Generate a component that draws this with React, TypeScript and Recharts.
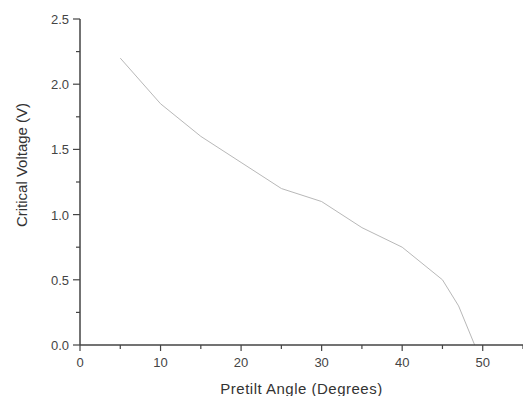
import { LineChart, Line, XAxis, YAxis, Label } from 'recharts';

const angles = [5, 10, 15, 20, 25, 30, 35, 40, 45, 47, 49];
const voltages = [2.2, 1.85, 1.6, 1.4, 1.2, 1.1, 0.9, 0.75, 0.5, 0.3, 0];
const xTicks = [0, 5, 10, 15, 20, 25, 30, 35, 40, 45, 50, 55];
const yTicks = [0, 0.25, 0.5, 0.75, 1, 1.25, 1.5, 1.75, 2, 2.25, 2.5];

const data = angles.map((a, i) => ({ angle: a, voltage: voltages[i] }));

const FONT = 'Liberation Sans, Arial, sans-serif';
const AXIS = '#444';
const TEXT = '#444';

// major ticks carry a label, minor ones are just short marks
function XTick({ x, y, payload }: any) {
  const major = payload.value % 10 === 0;
  return (
    <g>
      <line x1={x} x2={x} y1={y} y2={y + (major ? 6 : 4)} stroke={AXIS} strokeWidth={1.2} />
      {major && (
        <text x={x} y={y + 22} textAnchor="middle" fontSize={13} fill={TEXT} fontFamily={FONT}>
          {payload.value}
        </text>
      )}
    </g>
  );
}

function YTick({ x, y, payload }: any) {
  const major = Math.abs((payload.value * 2) % 1) < 1e-6;
  return (
    <g>
      <line x1={x} x2={x - (major ? 7 : 4)} y1={y} y2={y} stroke={AXIS} strokeWidth={1.2} />
      {major && (
        <text x={x - 11} y={y + 5} textAnchor="end" fontSize={13} fill={TEXT} fontFamily={FONT}>
          {payload.value.toFixed(1)}
        </text>
      )}
    </g>
  );
}

function YTitle({ viewBox }: any) {
  const cx = viewBox.x + 27;
  const cy = viewBox.y + viewBox.height / 2 - 17;
  return (
    <text
      x={cx}
      y={cy}
      transform={`rotate(-90 ${cx} ${cy})`}
      textAnchor="middle"
      fontSize={15}
      fill="#333"
      fontFamily={FONT}
    >
      Critical Voltage (V)
    </text>
  );
}

export default function App() {
  return (
    <div style={{ position: 'absolute', left: 0, top: 0, width: 523, height: 396, background: '#fff' }}>
      <LineChart width={523} height={396} data={data} margin={{ top: 19, right: 0, bottom: 0, left: 0 }}>
        <XAxis
          dataKey="angle"
          type="number"
          domain={[0, 55]}
          ticks={xTicks}
          interval={0}
          height={51}
          stroke={AXIS}
          strokeWidth={1.5}
          tickLine={false}
          tickSize={0}
          tickMargin={0}
          tick={<XTick />}
        >
          <Label
            value="Pretilt Angle (Degrees)"
            position="insideBottom"
            offset={2}
            fontSize={15}
            letterSpacing={0.5}
            fill="#333"
            fontFamily={FONT}
          />
        </XAxis>
        <YAxis
          type="number"
          domain={[0, 2.5]}
          ticks={yTicks}
          interval={0}
          width={80}
          stroke={AXIS}
          strokeWidth={1.5}
          tickLine={false}
          tickSize={0}
          tickMargin={0}
          tick={<YTick />}
        >
          <Label content={<YTitle />} />
        </YAxis>
        <Line
          dataKey="voltage"
          type="linear"
          stroke="#b8b8b8"
          strokeWidth={1}
          dot={false}
          isAnimationActive={false}
        />
      </LineChart>
    </div>
  );
}
